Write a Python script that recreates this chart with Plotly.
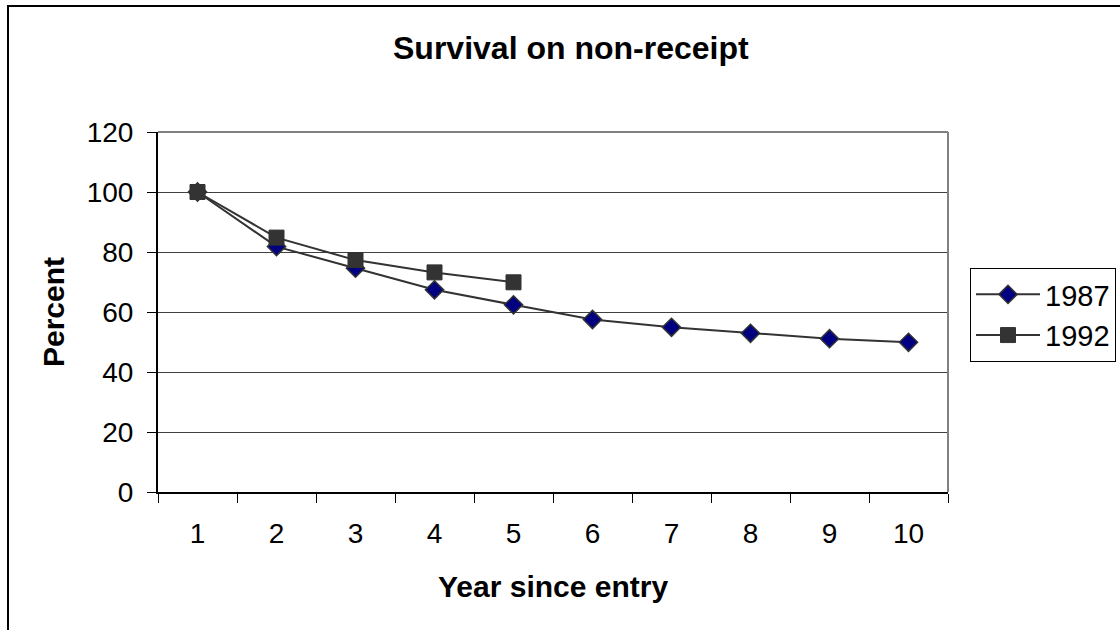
import plotly.graph_objects as go

years = ["1", "2", "3", "4", "5", "6", "7", "8", "9", "10"]
s1987 = [100, 81.8, 74.6, 67.4, 62.4, 57.5, 54.9, 52.9, 51.1, 49.9]
years_1992 = ["1", "2", "3", "4", "5"]
s1992 = [100, 84.8, 77.3, 73.2, 69.9]
y_ticks = [0, 20, 40, 60, 80, 100, 120]

FONT = "Liberation Sans, Arial, sans-serif"
W, H = 1120, 630
L, R, T, B = 158, 172, 132, 138
PW, PH = W - L - R, H - T - B

def px(x):
    return (x - L) / PW

def py(y):
    return (H - B - y) / PH

fig = go.Figure()
fig.add_trace(go.Scatter(
    x=years, y=s1987, name="1987", mode="lines+markers",
    line=dict(color="#333333", width=2),
    marker=dict(symbol="diamond", size=14, color="#000080",
                line=dict(color="#333333", width=1.5)),
))
fig.add_trace(go.Scatter(
    x=years_1992, y=s1992, name="1992", mode="lines+markers",
    line=dict(color="#333333", width=2),
    marker=dict(symbol="square", size=15, color="#333333",
                line=dict(color="#333333", width=1)),
))

fig.update_layout(
    width=W, height=H,
    margin=dict(l=L, r=R, t=T, b=B, pad=0, autoexpand=False),
    paper_bgcolor="white", plot_bgcolor="white",
    font=dict(family=FONT, size=28, color="black"),
    showlegend=True,
    legend=dict(
        x=px(970), y=py(268), xanchor="left", yanchor="top",
        bordercolor="black", borderwidth=1, bgcolor="white",
        font=dict(size=29), tracegroupgap=0, itemwidth=64,
    ),
    xaxis=dict(
        type="category", categoryorder="array", categoryarray=years,
        range=[-0.5, 9.5],
        showgrid=False, zeroline=False,
        showline=True, linecolor="black", linewidth=2,
        ticks="outside", tickson="boundaries", ticklen=9, tickcolor="black",
        tickwidth=1, ticklabelstandoff=15,
    ),
    yaxis=dict(
        range=[0, 120], tickvals=y_ticks,
        showgrid=True, gridcolor="#404040", gridwidth=1,
        zeroline=False,
        showline=True, linecolor="black", linewidth=2,
        ticks="outside", ticklen=9, tickcolor="black", tickwidth=1,
        ticklabelstandoff=8,
    ),
    shapes=[
        dict(type="line", xref="paper", yref="paper", x0=0, x1=1, y0=1, y1=1,
             line=dict(color="#808080", width=2)),
        dict(type="line", xref="paper", yref="paper", x0=1, x1=1, y0=0, y1=1,
             line=dict(color="#808080", width=2)),
        dict(type="rect", xref="paper", yref="paper",
             x0=px(8), x1=px(1200), y0=py(700), y1=py(6),
             line=dict(color="black", width=2), layer="below"),
    ],
    annotations=[
        dict(text="<b>Survival on non-receipt</b>", xref="paper", yref="paper",
             x=px(571), y=py(48), xanchor="center", yanchor="middle",
             showarrow=False, font=dict(size=32)),
        dict(text="<b>Year since entry</b>", xref="paper", yref="paper",
             x=px(553), y=py(586), xanchor="center", yanchor="middle",
             showarrow=False, font=dict(size=30)),
        dict(text="<b>Percent</b>", xref="paper", yref="paper",
             x=px(53), y=py(312), xanchor="center", yanchor="middle",
             textangle=-90, showarrow=False, font=dict(size=30)),
    ],
)

fig.write_html("out.html")
